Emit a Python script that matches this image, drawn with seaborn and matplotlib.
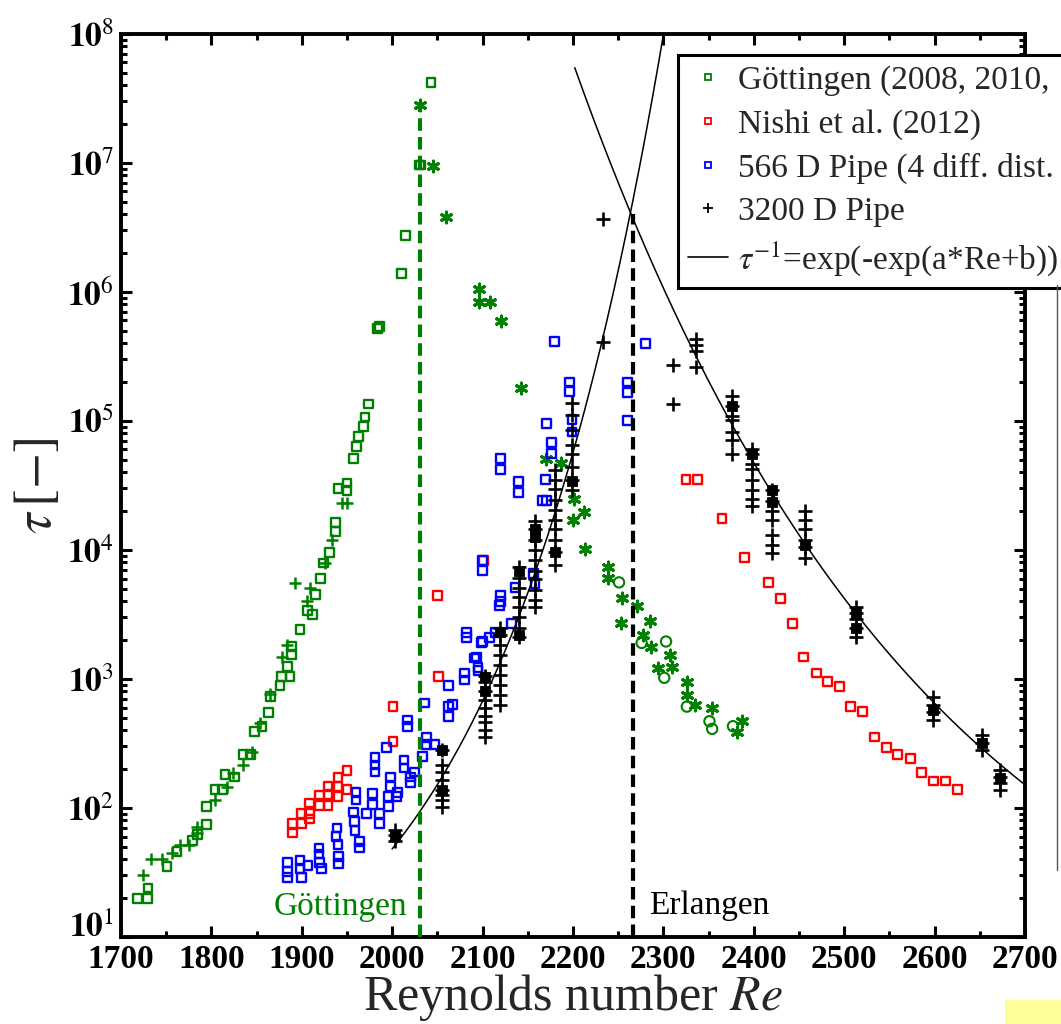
# Turbulent puff lifetime tau versus Reynolds number
import numpy as np
import matplotlib
matplotlib.use('Agg')
import matplotlib.pyplot as plt
from matplotlib.lines import Line2D
from matplotlib.patches import Rectangle
from matplotlib.ticker import MultipleLocator, LogLocator, NullFormatter
from matplotlib.transforms import ScaledTranslation
import seaborn as sns

# ---------------------------
# data
# ---------------------------
# Goettingen, squares
gott_sq_re = [1718, 1729, 1730, 1751, 1762, 1779, 1785, 1795, 1795, 1804,
              1812, 1815, 1826, 1835, 1843, 1848, 1856, 1863, 1865, 1876,
              1878, 1887, 1884, 1889, 1889, 1898, 1912, 1906, 1915, 1921,
              1924, 1931, 1937, 1937, 1940, 1950, 1950, 1957, 1961, 1963,
              1968, 1970, 1974, 1986, 1984, 2010, 2015, 2030, 2031, 2043]
gott_sq_tau = [20, 20, 24, 35, 46, 56, 62, 74, 102, 138,
               138, 181, 174, 258, 258, 390, 427, 550, 730, 890,
               1040, 1040, 1240, 1550, 1780, 2400, 3150, 3400, 4500, 6000,
               7900, 9500, 13800, 16300, 30000, 33000, 29000, 51000, 63000, 76000,
               90000, 107000, 135000, 540000, 520000, 1.38e6, 2.75e6, 9.6e6, 9.6e6, 4.2e7]

# Goettingen, plus signs
gott_pl_re = [1724, 1733, 1745, 1756, 1765, 1775, 1784, 1784, 1804, 1817,
              1824, 1835, 1845, 1854, 1865, 1878, 1884, 1893, 1909, 1906,
              1926, 1934, 1950, 1944]
gott_pl_tau = [30, 40, 40, 45, 52, 52, 71, 64, 115, 145,
               187, 215, 270, 455, 760, 1490, 1830, 5500, 5100, 4000,
               7900, 12000, 23000, 23000]

# Goettingen, asterisks (decay side)
gott_st_re = [2031, 2045, 2060, 2096, 2096, 2108, 2120, 2143, 2170, 2187,
              2201, 2212, 2200, 2213, 2239, 2239, 2254, 2271, 2253, 2285,
              2278, 2286, 2307, 2310, 2294, 2326, 2326, 2335, 2354, 2387, 2381]
gott_st_tau = [2.8e7, 9.5e6, 3.8e6, 1.05e6, 8.3e5, 8.3e5, 5.9e5, 1.8e5, 51000, 47000,
               25000, 19500, 17000, 10200, 7400, 6100, 4200, 3700, 2700, 2800,
               2200, 1780, 1540, 1230, 1210, 940, 750, 630, 590, 470, 390]

# Goettingen, circles
gott_ci_re = [2251, 2276, 2303, 2301, 2326, 2351, 2354, 2377]
gott_ci_tau = [5600, 1900, 1950, 1020, 610, 470, 410, 430]

# Nishi et al. (2012)
nishi_re = [1890, 1890, 1900, 1900, 1909, 1909, 1909, 1920, 1920, 1929,
            1929, 1929, 1940, 1940, 1940, 1950, 1950, 2001, 2001, 2051,
            2050, 2101, 2325, 2338, 2365, 2390, 2416, 2430, 2443, 2455,
            2469, 2482, 2495, 2507, 2520, 2534, 2547, 2559, 2573, 2586,
            2599, 2612, 2625]
nishi_tau = [64, 76, 76, 91, 82, 91, 109, 105, 126, 104,
             126, 148, 122, 146, 171, 138, 196, 610, 325, 1040,
             4400, 8300, 35000, 35000, 17600, 8700, 5600, 4200, 2700, 1480,
             1110, 960, 870, 610, 560, 355, 293, 258, 240, 187,
             162, 162, 138]

# 566 D pipe
p566_re = [1884, 1884, 1884, 1898, 1898, 1900, 1907, 1919, 1919, 1920,
           1922, 1939, 1938, 1940, 1941, 1941, 1957, 1958, 1959, 1964,
           1964, 1960, 1960, 1972, 1978, 1978, 1986, 1986, 1981, 1981,
           1981, 1994, 1998, 1998, 1996, 1996, 2005, 2006, 2013, 2013,
           2017, 2017, 2020, 2020, 2025, 2034, 2038, 2038, 2047, 2036,
           2062, 2062, 2062, 2067, 2080, 2080, 2093, 2095, 2099, 2082,
           2082, 2100, 2108, 2091, 2095, 2119, 2132, 2114, 2100, 2100,
           2120, 2120, 2136, 2156, 2158, 2120, 2120, 2140, 2140, 2170,
           2166, 2171, 2171, 2176, 2176, 2196, 2196, 2199, 2199, 2180,
           2260, 2260, 2260, 2280]
p566_tau = [38, 32, 29, 39, 34, 29, 36, 49, 44, 38,
            34, 70, 60, 52, 42, 37, 93, 78, 67, 55,
            49, 131, 115, 91, 129, 106, 91, 76, 245, 215,
            190, 293, 174, 146, 122, 102, 122, 131, 235, 204,
            480, 425, 174, 158, 190, 250, 350, 310, 310, 650,
            890, 610, 510, 630, 1110, 980, 1480, 1170, 1910, 2300,
            2080, 1950, 2080, 1450, 1230, 3700, 2700, 2300, 8300, 6900,
            4000, 4400, 5100, 6600, 5500, 51000, 42000, 34000, 28000, 35000,
            24000, 24000, 96000, 68000, 56000, 2.0e5, 1.7e5, 1.02e5, 8.2e4, 4.1e5,
            2.0e5, 1.66e5, 1.0e5, 4.0e5]

# 3200 D pipe, plus signs
p3200_re = [2003, 2003, 2003,
            2055, 2055, 2055, 2055, 2055, 2055, 2055, 2055,
            2103, 2103, 2103, 2103, 2103, 2103, 2103, 2103, 2103,
            2119, 2119, 2119, 2119, 2119, 2119, 2119, 2119, 2119,
            2140, 2140, 2140, 2140, 2140, 2140, 2140, 2140,
            2158, 2158, 2158, 2158, 2158, 2158, 2158, 2158, 2158, 2158,
            2180, 2180, 2180, 2180, 2180, 2180, 2180, 2180, 2180, 2180,
            2199, 2199, 2199, 2199, 2199, 2199, 2199, 2199,
            2233, 2233, 2311, 2311,
            2336, 2336, 2336, 2336,
            2376, 2376, 2376, 2376, 2376, 2376, 2376,
            2398, 2398, 2398, 2398, 2398, 2398, 2398, 2398,
            2420, 2420, 2420, 2420, 2420, 2420, 2420,
            2457, 2457, 2457, 2457, 2457, 2457,
            2513, 2513, 2513, 2513, 2513,
            2598, 2598, 2598, 2598,
            2652, 2652, 2652,
            2672, 2672, 2672, 2672]
p3200_tau = [68, 62, 55,
             282, 215, 190, 165, 138, 126, 115, 102,
             1050, 940, 810, 690, 600, 520, 465, 400, 355,
             2500, 2200, 1830, 1540, 1290, 1080, 900, 750, 630,
             7400, 6100, 5100, 4300, 3600, 3000, 2500, 2100,
             16600, 14400, 12000, 10000, 8300, 6900, 5900, 4900, 4100, 3600,
             41700, 34700, 29500, 24500, 20400, 17000, 14400, 12000, 9550, 7600,
             1.38e5, 1.12e5, 8.5e4, 6.5e4, 5.5e4, 4.4e4, 3.5e4, 2.9e4,
             4.1e5, 3.7e6, 2.7e5, 1.35e5,
             4.3e5, 3.9e5, 3.5e5, 2.6e5,
             1.55e5, 1.3e5, 1.1e5, 1.02e5, 8.2e4, 7.1e4, 5.5e4,
             6.0e4, 5.5e4, 4.6e4, 4.2e4, 3.5e4, 2.9e4, 2.5e4, 2.2e4,
             2.9e4, 2.4e4, 2.0e4, 1.7e4, 1.3e4, 1.1e4, 9500,
             2.0e4, 1.7e4, 1.45e4, 1.2e4, 1.05e4, 8700,
             3600, 3250, 2900, 2500, 2100,
             720, 630, 550, 480,
             370, 320, 280,
             196, 174, 155, 138]

# 3200 D pipe, places where the plus signs pile up into a solid block
p3200_blk_re = [2003, 2055, 2055, 2103, 2103, 2119, 2140, 2140, 2158, 2158,
                2180, 2199, 2376, 2398, 2420, 2420, 2457, 2513, 2513, 2598,
                2652, 2672]
p3200_blk_tau = [62, 282, 138, 1040, 800, 2300, 2200, 6800, 14400, 12500,
                 9550, 34000, 1.3e5, 5.5e4, 2.9e4, 2.35e4, 1.1e4, 3250, 2500, 570,
                 320, 170]

# fits tau = exp(exp(a*Re + b)), growth and decay branch
fit_up_a, fit_up_b = 0.005194, -9.034
fit_up_range = (2000, 2305)
fit_dn_a, fit_dn_b = -0.002544, 8.482
fit_dn_range = (2202, 2700)

# vertical marker lines
gott_line_re, gott_line_top = 2031, 2.7e7
erl_line_re, erl_line_top = 2266, 4.0e6

x_ticks = [1700, 1800, 1900, 2000, 2100, 2200, 2300, 2400, 2500, 2600, 2700]
y_ticks = [1e1, 1e2, 1e3, 1e4, 1e5, 1e6, 1e7, 1e8]
y_tick_labels = [r'$\mathbf{10}^{\mathrm{%d}}$' % k for k in range(1, 9)]

# legend text as far as it is visible (the box runs off the right edge)
legend_labels = ['Göttingen (2008, 2010,', 'Nishi et al. (2012)',
                 '566 D Pipe (4 diff. dist.', '3200 D Pipe',
                 r'$\tau^{\mathrm{-1}}$=exp(-exp(a*Re+b))']

GREEN = '#008000'
RED = '#ff0000'
BLUE = '#0000ff'
BLACK = '#000000'

# ---------------------------
# style
# ---------------------------
sns.set_style('ticks')
plt.rcParams['font.family'] = ['Liberation Serif', 'DejaVu Serif']
plt.rcParams['mathtext.fontset'] = 'stix'

fig = plt.figure(figsize=(10.61, 10.24), dpi=100)
ax = fig.add_axes([0.114, 0.085, 0.852, 0.882])
ax.set_yscale('log')

# ---------------------------
# scatter series
# ---------------------------
sq = dict(marker='s', s=40, facecolor='none', linewidth=1.7, zorder=3)
sns.scatterplot(x=gott_sq_re, y=gott_sq_tau, color=GREEN, edgecolor=GREEN, ax=ax, **sq)
sns.scatterplot(x=gott_pl_re, y=gott_pl_tau, marker='+', s=85, color=GREEN,
                linewidth=1.8, ax=ax, zorder=3)
sns.scatterplot(x=gott_st_re, y=gott_st_tau, marker=(6, 2, 0), s=60, color=GREEN,
                linewidth=2.2, ax=ax, zorder=3)
sns.scatterplot(x=gott_ci_re, y=gott_ci_tau, marker='o', s=55, color=GREEN,
                facecolor='none', edgecolor=GREEN, linewidth=1.5, ax=ax, zorder=3)
sns.scatterplot(x=nishi_re, y=nishi_tau, color=RED, edgecolor=RED, ax=ax, **sq)
sns.scatterplot(x=p566_re, y=p566_tau, color=BLUE, edgecolor=BLUE, ax=ax, **sq)
sns.scatterplot(x=p3200_re, y=p3200_tau, marker='+', s=95, color=BLACK,
                linewidth=1.9, ax=ax, zorder=4)
sns.scatterplot(x=p3200_blk_re, y=p3200_blk_tau, marker='s', s=55, color=BLACK,
                edgecolor=BLACK, ax=ax, zorder=4)

# ---------------------------
# fit curves
# ---------------------------
for a, b, (r0, r1) in [(fit_up_a, fit_up_b, fit_up_range),
                       (fit_dn_a, fit_dn_b, fit_dn_range)]:
    re_fit = np.linspace(r0, r1, 300)
    tau_fit = np.exp(np.exp(a * re_fit + b))
    sns.lineplot(x=re_fit, y=tau_fit, color=BLACK, linewidth=1.1, ax=ax,
                 sort=False, estimator=None, zorder=5)

# vertical dashed lines
ax.vlines(gott_line_re, 10, gott_line_top, colors=GREEN, linewidth=3,
          linestyles=(0, (3, 1.5)), zorder=6)
ax.vlines(erl_line_re, 10, erl_line_top, colors=BLACK, linewidth=3,
          linestyles=(0, (3, 1.5)), zorder=6)
ax.text(2017, 17, 'Göttingen', color=GREEN, fontsize=24, ha='right', va='center')
ax.text(2284, 17.5, 'Erlangen', color=BLACK, fontsize=24, ha='left', va='center')

# ---------------------------
# axes
# ---------------------------
ax.set_xlim(1700, 2700)
ax.set_ylim(10, 1e8)
ax.set_xticks(x_ticks)
ax.xaxis.set_minor_locator(MultipleLocator(50))
ax.set_yticks(y_ticks)
ax.set_yticklabels(y_tick_labels)
ax.yaxis.set_minor_locator(LogLocator(base=10, subs=np.arange(2, 10)))
ax.yaxis.set_minor_formatter(NullFormatter())
ax.tick_params(which='both', direction='in', top=True, right=True, width=2.2,
               colors=BLACK)
ax.tick_params(which='major', length=8, labelsize=24, pad=5)
ax.tick_params(which='minor', length=4)
for lab in ax.get_xticklabels():
    lab.set_fontweight('bold')
for sp in ax.spines.values():
    sp.set_linewidth(2.8)
    sp.set_color(BLACK)

# lift the bottom 10^1 label so it clears the 1700 label
low = ax.yaxis.get_major_ticks()[0].label1
low.set_transform(low.get_transform() + ScaledTranslation(0, 9 / 72, fig.dpi_scale_trans))

ax.set_xlabel(r'Reynolds number $Re$', fontsize=36)
ax.xaxis.label.set_verticalalignment('baseline')
ax.xaxis.set_label_coords(0.5, -0.0808)
ax.set_ylabel(r'$\tau\,[-]$', fontsize=38)
ax.yaxis.set_label_coords(-0.065, 0.5)

# ---------------------------
# legend
# ---------------------------
handles = [
    Line2D([], [], marker='s', ls='none', ms=5, mfc='none', mec=GREEN, mew=1.3),
    Line2D([], [], marker='s', ls='none', ms=5, mfc='none', mec=RED, mew=1.3),
    Line2D([], [], marker='s', ls='none', ms=5, mfc='none', mec=BLUE, mew=1.3),
    Line2D([], [], marker='+', ls='none', ms=7, color=BLACK, mew=1.3),
    Line2D([], [], color=BLACK, lw=1.2),
]
leg = ax.legend(handles, legend_labels, loc='upper left',
                bbox_to_anchor=(0.639, 0.946), bbox_transform=fig.transFigure,
                fontsize=24, frameon=True, fancybox=False, framealpha=1,
                edgecolor=BLACK, handlelength=1.2, handletextpad=0.3,
                labelspacing=0.38, borderpad=0.3, borderaxespad=0)
leg.get_frame().set_linewidth(2.2)
leg.set_zorder(10)

# small leftovers of the original slide
fig.add_artist(Line2D([0.996, 0.996], [0.15, 0.722], color='#555555', lw=1,
                      transform=fig.transFigure))
fig.add_artist(Rectangle((0.947, 0.0), 0.053, 0.023, color='#ffff99',
                         transform=fig.transFigure, lw=0))

fig.savefig('out.png', dpi=100)
